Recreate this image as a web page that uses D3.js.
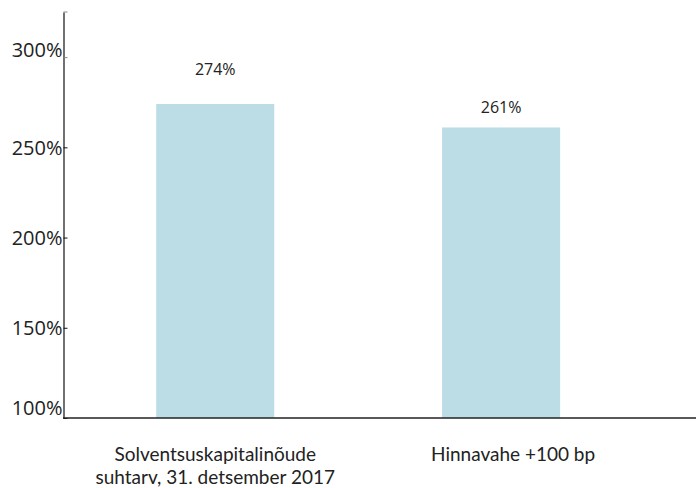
<!DOCTYPE html>
<html lang="et">
<head>
<meta charset="UTF-8">
<script src="https://d3js.org/d3.v7.min.js"></script>
<style>
    body { margin: 0; background: #fff; }
    .tick text { font: 20px "Open Sans"; fill: #222; }
    .xlab { font: 19px Lato; fill: #222; }
    .val { font: 16px "Open Sans"; fill: #222; }
</style>
</head>
<body>
<svg id="chart"></svg>
<script>
    // scenario names (lines of the x labels) and solvency ratio in %
    const categories = [
        ['Solventsuskapitalinõude', 'suhtarv, 31. detsember 2017'],
        ['Hinnavahe +100 bp']
    ];
    const values = [274, 261];
    const yTicks = [100, 150, 200, 250, 300];

    const W = 696, H = 488;
    const svg = d3.select('#chart').attr('width', W).attr('height', H);

    const y = d3.scaleLinear().domain([100, 325]).range([418, 12]);
    const x = d3.scaleBand()
        .domain(d3.range(values.length))
        .range([63.5, 683])
        .paddingInner(0.587)
        .paddingOuter(0.377)
        .align(0.43);

    // bars
    svg.selectAll('rect.bar')
        .data(values).enter()
        .append('rect')
        .attr('class', 'bar')
        .attr('x', (d, i) => x(i))
        .attr('y', d => y(d))
        .attr('width', x.bandwidth())
        .attr('height', d => y(100) - y(d))
        .attr('fill', '#bcdde6');

    // value labels
    const labelLift = [35, 20];
    svg.selectAll('text.val')
        .data(values).enter()
        .append('text')
        .attr('class', 'val')
        .attr('x', (d, i) => x(i) + x.bandwidth() / 2)
        .attr('y', (d, i) => y(d) - labelLift[i])
        .attr('dy', '0.35em')
        .attr('text-anchor', 'middle')
        .text(d => d + '%');

    // y axis, ticks point into the plot
    const yAxis = svg.append('g')
        .attr('transform', 'translate(63.5,0)')
        .call(d3.axisLeft(y).tickValues(yTicks).tickFormat(d => d + '%')
            .tickSizeInner(-4).tickSizeOuter(0).tickPadding(1));
    yAxis.select('.domain').attr('stroke', '#111').attr('stroke-width', 1.2);
    yAxis.selectAll('.tick line').attr('stroke', d => d === 300 ? '#888' : '#111');
    yAxis.selectAll('.tick text')
        .attr('dy', d => d === 100 ? '-0.2em' : d === 300 ? '-0.05em' : '0.35em');
    yAxis.append('line')
        .attr('x1', 0).attr('x2', 4)
        .attr('y1', y.range()[1]).attr('y2', y.range()[1])
        .attr('stroke', '#888');

    // x axis line
    svg.append('line')
        .attr('x1', 63).attr('x2', W)
        .attr('y1', y(100)).attr('y2', y(100))
        .attr('stroke', '#222').attr('stroke-width', 1.6);

    // category labels
    const xl = svg.selectAll('text.xlab')
        .data(categories).enter()
        .append('text')
        .attr('class', 'xlab')
        .attr('text-anchor', 'middle')
        .attr('x', (d, i) => x(i) + x.bandwidth() / 2 + (i === 1 ? 12 : 0))
        .attr('y', 461);
    xl.selectAll('tspan')
        .data(d => d).enter()
        .append('tspan')
        .attr('x', function () { return this.parentNode.getAttribute('x'); })
        .attr('dy', (d, i) => i === 0 ? 0 : 23)
        .text(d => d);
</script>
</body>
</html>
